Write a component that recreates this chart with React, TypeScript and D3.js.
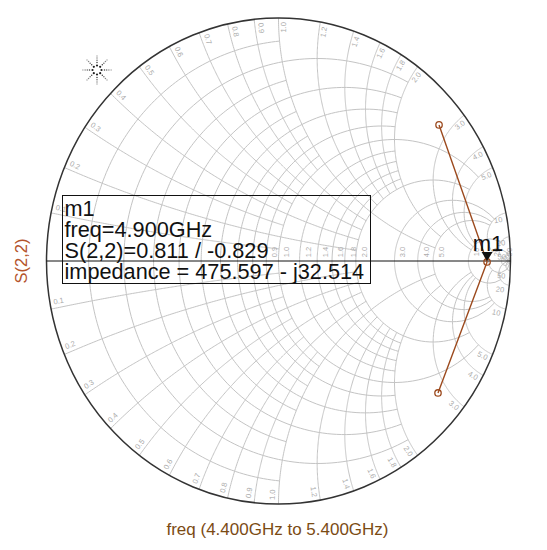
import React, { useMemo } from "react";
import * as d3 from "d3";

// ---- data ----
const resistanceValues = [0.1, 0.2, 0.3, 0.4, 0.5, 0.6, 0.7, 0.8, 0.9, 1.0, 1.2, 1.4, 1.6, 1.8, 2.0, 3.0, 4.0, 5.0, 10, 20, 50];
const reactanceValues = [0.1, 0.2, 0.3, 0.4, 0.5, 0.6, 0.7, 0.8, 0.9, 1.0, 1.2, 1.4, 1.6, 1.8, 2.0, 3.0, 4.0, 5.0, 10, 20, 50];
const axisLabelValues = [0.9, 1.0, 1.2, 1.4, 1.6, 1.8, 2.0, 3.0, 4.0, 5.0, 10, 20, 50];
const traceFreqGHz = [4.4, 4.9, 5.4];
const traceGammaRe = [0.692, 0.899, 0.6875];
const traceGammaIm = [0.56, -0.004, -0.543];
const markerIndex = 1;
const markerLines = ["m1", "freq=4.900GHz", "S(2,2)=0.811 / -0.829", "impedance = 475.597 - j32.514"];
const yAxisLabel = "S(2,2)";
const xAxisLabel = "freq (4.400GHz to 5.400GHz)";

const W = 547;
const H = 550;
const FONT = "'Liberation Sans', Arial, sans-serif";

function gamma(r: number, x: number): [number, number] {
  const d = (r + 1) * (r + 1) + x * x;
  return [(r * r - 1 + x * x) / d, (2 * x) / d];
}

function fmt(v: number) {
  return v >= 10 ? String(v) : v.toFixed(1);
}

function resLimit(r: number) {
  if (r < 1) return Math.round(r * 10) % 2 === 1 ? 1.0 : 2.0;
  if (r === 1) return 5;
  if (r < 2) return 2;
  if (r === 2) return 5;
  if (r <= 5) return 10;
  if (r <= 10) return 20;
  return Infinity;
}

export default function App() {
  const xS = d3.scaleLinear().domain([-1, 1]).range([46.5, 510.5]);
  const yS = d3.scaleLinear().domain([-1, 1]).range([504, 18]);
  const line = d3
    .line<[number, number]>()
    .x((d) => xS(d[0]))
    .y((d) => yS(d[1]));

  const grid = useMemo(() => {
    const paths: string[] = [];
    const N = 160;
    resistanceValues.forEach((r) => {
      const lim = resLimit(r);
      const tMax = lim === Infinity ? Math.PI / 2 - 1e-6 : Math.atan(lim);
      const pts: [number, number][] = [];
      for (let i = 0; i <= N; i++) {
        const t = -tMax + (2 * tMax * i) / N;
        pts.push(gamma(r, Math.tan(t)));
      }
      if (lim === Infinity) pts.push([1, 0]);
      paths.push(line(pts) || "");
    });
    reactanceValues.forEach((x) => {
      const lim = resLimit(x);
      const tMax = lim === Infinity ? Math.PI / 2 - 1e-6 : Math.atan(lim);
      [1, -1].forEach((s) => {
        const pts: [number, number][] = [];
        for (let i = 0; i <= N; i++) {
          const t = (tMax * i) / N;
          pts.push(gamma(Math.tan(t), s * x));
        }
        if (lim === Infinity) pts.push([1, 0]);
        paths.push(line(pts) || "");
      });
    });
    return paths;
  }, []);

  const perimLabels = useMemo(() => {
    const out: { x: number; y: number; rot: number; t: string }[] = [];
    reactanceValues.forEach((x) => {
      [1, -1].forEach((s) => {
        const g = gamma(0, s * x);
        const phi = Math.atan2(g[1], g[0]) - 0.025;
        const rr = 0.962;
        const px = xS(rr * Math.cos(phi));
        const py = yS(rr * Math.sin(phi));
        const sx = xS(Math.cos(phi)) - xS(0);
        const sy = yS(Math.sin(phi)) - yS(0);
        let rot = (Math.atan2(sy, sx) * 180) / Math.PI;
        if (rot > 90) rot -= 180;
        if (rot < -90) rot += 180;
        out.push({ x: px, y: py, rot, t: fmt(x) });
      });
    });
    return out;
  }, []);

  const axisLabels = axisLabelValues.map((r) => {
    const g = gamma(r, 0);
    return { x: xS(g[0]) + 9, y: yS(0) - 9, t: fmt(r) };
  });

  const tracePts: [number, number][] = traceGammaRe.map((re, i) => [re, traceGammaIm[i]]);
  const mx = xS(traceGammaRe[markerIndex]);
  const my = yS(traceGammaIm[markerIndex]);
  const traceColor = "#9c4a1e";

  const logo: JSX.Element[] = [];
  const lx = 97,
    ly = 70;
  for (let k = 0; k < 8; k++) {
    const a = (k * Math.PI) / 4;
    logo.push(<circle key={"c" + k} cx={lx + 4.5 * Math.cos(a)} cy={ly + 4.5 * Math.sin(a)} r={1.1} fill="#222" />);
    for (let j = 0; j < 4; j++) {
      const rr = 7.5 + j * 2.2;
      logo.push(
        <circle key={"r" + k + "_" + j} cx={lx + rr * Math.cos(a)} cy={ly + rr * Math.sin(a)} r={0.75} fill="#444" opacity={1 - j * 0.18} />
      );
    }
  }

  return (
    <svg width={W} height={H} style={{ display: "block", position: "absolute", left: 0, top: 0, background: "#fff" }}>
      <rect width={W} height={H} fill="#fff" />
      <g fill="none" stroke="#c4c4c4" strokeWidth={1}>
        {grid.map((d, i) => (
          <path key={i} d={d} />
        ))}
      </g>
      <g fontFamily={FONT} fontSize={7.5} fill="#ababab" textAnchor="middle" dominantBaseline="middle">
        {perimLabels.map((l, i) => (
          <text key={i} transform={`translate(${l.x},${l.y}) rotate(${l.rot})`}>
            {l.t}
          </text>
        ))}
        {axisLabels.map((l, i) => (
          <text key={"a" + i} transform={`translate(${l.x},${l.y}) rotate(-90)`}>
            {l.t}
          </text>
        ))}
      </g>
      <ellipse cx={xS(0)} cy={yS(0)} rx={xS(1) - xS(0)} ry={yS(0) - yS(1)} fill="none" stroke="#333" strokeWidth={1.5} />
      <line x1={xS(-1)} x2={xS(1)} y1={yS(0)} y2={yS(0)} stroke="#111" strokeWidth={1} />
      {logo}
      <path d={line(tracePts) || ""} fill="none" stroke={traceColor} strokeWidth={1.4} />
      {tracePts.map((p, i) => (
        <circle key={"p" + i} cx={xS(p[0])} cy={yS(p[1])} r={3.2} fill="none" stroke={traceColor} strokeWidth={1.3} />
      ))}
      <path d={`M${mx - 5.5},${my - 10} L${mx + 5.5},${my - 10} L${mx},${my - 1} Z`} fill="#111" />
      <text x={mx + 1} y={my - 11} fontFamily={FONT} fontSize={22} textAnchor="middle" fill="#111">
        m1
      </text>
      <rect x={62.5} y={195.5} width={308} height={88} fill="none" stroke="#111" strokeWidth={1} />
      <text x={64.5} y={216} fontFamily={FONT} fontSize={21.7} fill="#111">
        {markerLines.map((t, i) => (
          <tspan key={i} x={64.5} dy={i === 0 ? 0 : 21}>
            {t}
          </tspan>
        ))}
      </text>
      <text transform={`translate(27,${yS(0)}) rotate(-90)`} textAnchor="middle" fontFamily={FONT} fontSize={16.5} fill="#b4542c">
        {yAxisLabel}
      </text>
      <text x={277.5} y={535} textAnchor="middle" fontFamily={FONT} fontSize={17} fill="#7b4b14">
        {xAxisLabel}
      </text>
      <desc>{traceFreqGHz.join(",")}</desc>
    </svg>
  );
}
